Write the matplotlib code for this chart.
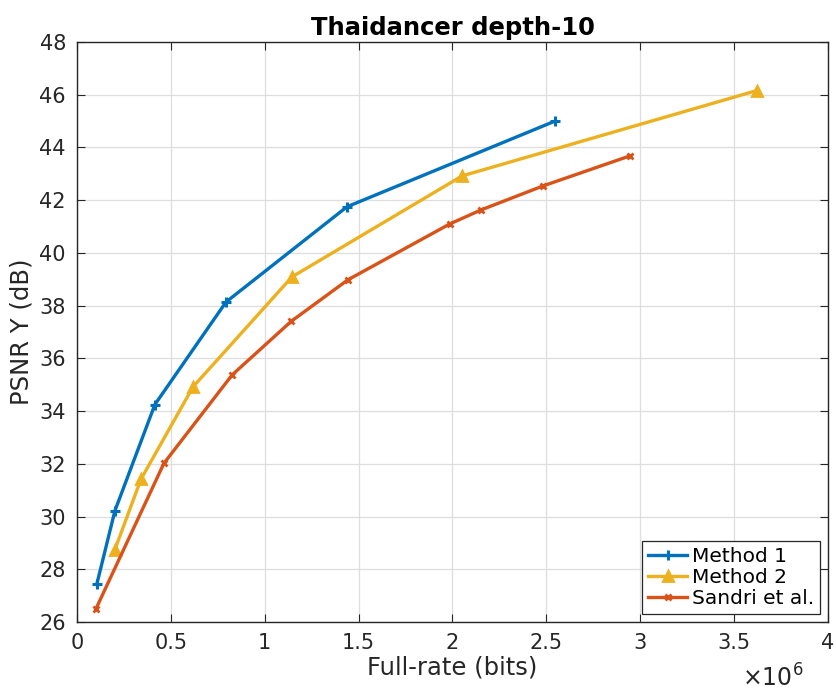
import matplotlib
matplotlib.use("Agg")
import matplotlib.pyplot as plt
from matplotlib.ticker import MultipleLocator

# rates in bits (x 1e6), PSNR Y in dB
m1_rate = [0.106, 0.202, 0.415, 0.794, 1.438, 2.546]
m1_psnr = [27.45, 30.22, 34.25, 38.14, 41.75, 45.0]

m2_rate = [0.202, 0.341, 0.618, 1.145, 2.051, 3.622]
m2_psnr = [28.75, 31.42, 34.92, 39.09, 42.92, 46.16]

sandri_rate = [0.101, 0.463, 0.826, 1.14, 1.443, 1.986, 2.152, 2.482, 2.945]
sandri_psnr = [26.5, 32.02, 35.37, 37.4, 38.98, 41.1, 41.63, 42.54, 43.68]

fig = plt.figure(figsize=(8.37, 6.9), dpi=100)
ax = fig.add_axes([77/837, 68/690, 751/837, 580/690])

ax.plot([r*1e6 for r in m1_rate], m1_psnr, color='#0072BD', lw=2.4,
        marker='+', ms=7, mew=2.2, label='Method 1')
ax.plot([r*1e6 for r in m2_rate], m2_psnr, color='#EDB120', lw=2.4,
        marker='^', ms=7, mew=2.0, mfc='#EDB120', label='Method 2')
ax.plot([r*1e6 for r in sandri_rate], sandri_psnr, color='#D95319', lw=2.4,
        marker='x', ms=5, mew=2.0, label='Sandri et al.')

ax.set_xlim(0, 4e6)
ax.set_ylim(26, 48)
ax.yaxis.set_major_locator(MultipleLocator(2))
ax.set_xticks([i*0.5e6 for i in range(9)])
ax.set_xticklabels(['0', '0.5', '1', '1.5', '2', '2.5', '3', '3.5', '4'])
ax.grid(True, color='#dedede', lw=0.9)
ax.set_axisbelow(True)
ax.tick_params(direction='in', top=True, right=True, labelsize=15, length=6,
               colors='#262626', pad=8)
for s in ax.spines.values():
    s.set_color('#262626')
    s.set_linewidth(1.0)

ax.set_xlabel('Full-rate (bits)', fontsize=17.5, color='#262626', labelpad=2)
ax.set_ylabel('PSNR Y (dB)', fontsize=17.5, color='#262626', labelpad=4)
ax.set_title('Thaidancer depth-10', fontsize=17.5, fontweight='bold', pad=5)
fig.text(742/837, 12/690, r'$\times$10$^6$', fontsize=17, color='#262626',
         ha='left', va='center')

leg = ax.legend(loc='lower right', fontsize=14.5, fancybox=False, framealpha=1,
                edgecolor='#262626', handlelength=1.9, borderpad=0.3,
                labelspacing=0.1, handletextpad=0.25, borderaxespad=0.4)
leg.get_frame().set_linewidth(0.9)

fig.savefig('out.png', dpi=100)
